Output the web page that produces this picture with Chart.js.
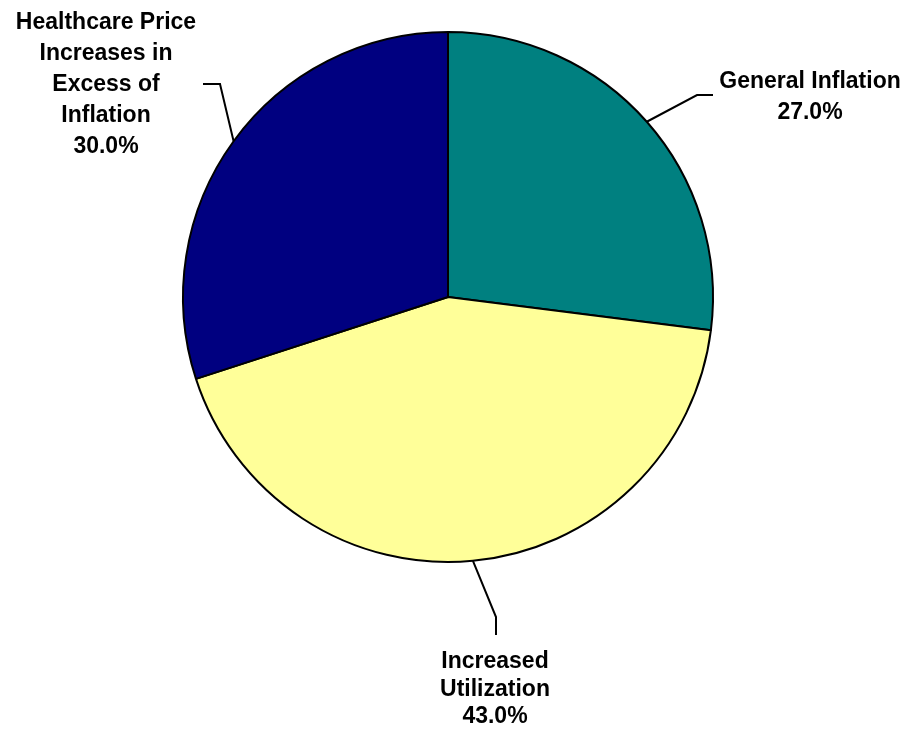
<!DOCTYPE html>
<html>
<head>
<meta charset="utf-8">
<script src="https://cdn.jsdelivr.net/npm/chart.js@4.4.1/dist/chart.umd.min.js"></script>
<style>
  html, body { margin: 0; padding: 0; background: #ffffff; }
  #wrap { width: 912px; height: 730px; position: relative; }
</style>
</head>
<body>
<div id="wrap"><canvas id="pie"></canvas></div>
<script>
// Datos del gráfico
const categorias = [
    ['General Inflation'],
    ['Increased', 'Utilization'],
    ['Healthcare Price', 'Increases in', 'Excess of', 'Inflation']
];
const porcentajes = [27.0, 43.0, 30.0];
const colores = ['#008080', '#FFFF99', '#000080'];

// Posición de etiquetas y líneas guía, relativas al centro del pastel
// (texto: centro x y línea base de la primera línea)
const etiquetas = [
    { codo: [249, -202], fin: [265, -202], texto: [362, -209], alto: 31 },
    { codo: [48, 320], fin: [48, 338], texto: [47, 371], alto: 27.5 },
    { codo: [-228, -213], fin: [-245, -213], texto: [-342, -268], alto: 31 }
];

// Plugin para dibujar las etiquetas con sus líneas guía
const etiquetasPlugin = {
    id: 'etiquetasPastel',
    afterDatasetsDraw(chart) {
        const ctx = chart.ctx;
        const meta = chart.getDatasetMeta(0);
        ctx.save();
        meta.data.forEach((arc, i) => {
            const cx = arc.x, cy = arc.y;
            const medio = (arc.startAngle + arc.endAngle) / 2;
            const r = arc.outerRadius;
            const lay = etiquetas[i];

            // línea guía
            ctx.beginPath();
            ctx.strokeStyle = '#000000';
            ctx.lineWidth = 2;
            ctx.moveTo(cx + Math.cos(medio) * r, cy + Math.sin(medio) * r);
            ctx.lineTo(cx + lay.codo[0], cy + lay.codo[1]);
            ctx.lineTo(cx + lay.fin[0], cy + lay.fin[1]);
            ctx.stroke();

            // texto
            const lineas = categorias[i].concat([porcentajes[i].toFixed(1) + '%']);
            ctx.fillStyle = '#000000';
            ctx.font = 'bold 23px "Liberation Sans", Arial, sans-serif';
            ctx.textAlign = 'center';
            ctx.textBaseline = 'alphabetic';
            lineas.forEach((t, k) => {
                ctx.fillText(t, cx + lay.texto[0], cy + lay.texto[1] + k * lay.alto);
            });
        });
        ctx.restore();
    }
};

const lienzo = document.getElementById('pie').getContext('2d');
new Chart(lienzo, {
    type: 'pie',
    data: {
        labels: categorias.map(c => c.join(' ')),
        datasets: [{
            data: porcentajes,
            backgroundColor: colores,
            borderColor: '#000000',
            borderWidth: 2,
            radius: 265
        }]
    },
    options: {
        responsive: true,
        maintainAspectRatio: false,
        animation: false,
        layout: {
            padding: { left: 170, right: 186, top: 30, bottom: 166 }
        },
        plugins: {
            legend: { display: false },
            tooltip: { enabled: false }
        }
    },
    plugins: [etiquetasPlugin]
});
</script>
</body>
</html>
